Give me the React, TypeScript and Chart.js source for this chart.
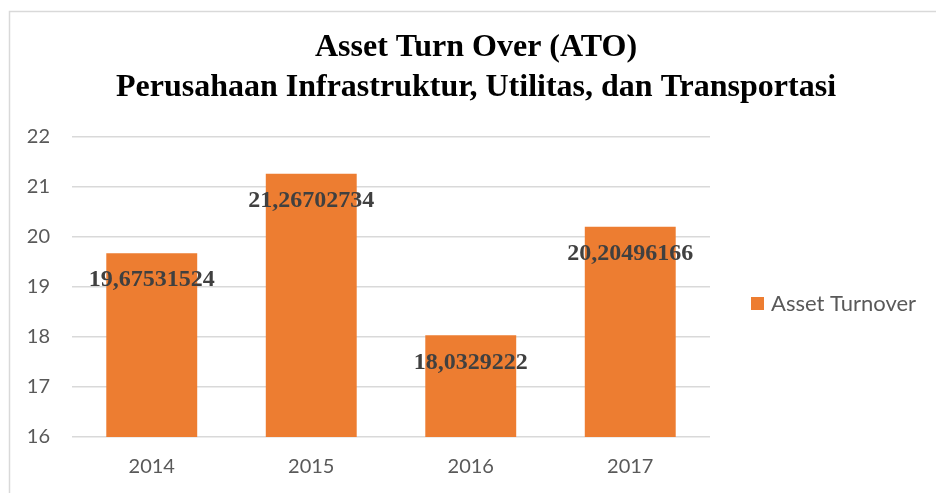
import React, { useEffect, useRef } from "react";
import { Chart, registerables } from "chart.js";

Chart.register(...registerables);

const categories = ["2014", "2015", "2016", "2017"];
const seriesName = "Asset Turnover";
const values = [19.67531524, 21.26702734, 18.0329222, 20.20496166];
const titleLines = ["Asset Turn Over (ATO)", "Perusahaan Infrastruktur, Utilitas, dan Transportasi"];
const yMin = 16;
const yMax = 22;

const BAR = "#ED7D31";
const AXIS_FONT = "Lato, 'Open Sans', sans-serif";
const SERIF = "'Liberation Serif', 'DejaVu Serif', serif";

const fmt = (v: number) => String(v).replace(".", ",");

const decor = {
  id: "decor",
  afterDraw(chart: any) {
    const ctx = chart.ctx as CanvasRenderingContext2D;
    ctx.save();
    // outer border (top & left visible)
    ctx.strokeStyle = "#d9d9d9";
    ctx.lineWidth = 1.5;
    ctx.beginPath();
    ctx.moveTo(9.5, 493);
    ctx.lineTo(9.5, 11.5);
    ctx.lineTo(936, 11.5);
    ctx.stroke();
    // title
    ctx.fillStyle = "#000";
    ctx.textAlign = "center";
    ctx.textBaseline = "middle";
    ctx.font = `bold 32px ${SERIF}`;
    ctx.fillText(titleLines[0], 476, 48);
    ctx.fillText(titleLines[1], 476, 88);
    // data labels
    const meta = chart.getDatasetMeta(0);
    ctx.font = `bold 24px ${SERIF}`;
    ctx.fillStyle = "#404040";
    meta.data.forEach((bar: any, i: number) => {
      ctx.fillText(fmt(values[i]), bar.x, bar.y + 27);
    });
    // legend
    ctx.fillStyle = BAR;
    ctx.fillRect(751, 297, 13, 13);
    ctx.fillStyle = "#595959";
    ctx.textAlign = "left";
    ctx.font = `22px ${AXIS_FONT}`;
    ctx.fillText(seriesName, 771, 304);
    ctx.restore();
  },
};

export default function App() {
  const ref = useRef<HTMLCanvasElement>(null);
  useEffect(() => {
    document.body.style.margin = "0";
    const chart = new Chart(ref.current!, {
      type: "bar",
      data: {
        labels: categories,
        datasets: [
          {
            label: seriesName,
            data: values,
            backgroundColor: BAR,
            borderWidth: 0,
            barPercentage: 0.57,
            categoryPercentage: 1,
          },
        ],
      },
      options: {
        animation: false,
        responsive: false,
        layout: { padding: { top: 137, right: 226, left: 10, bottom: 0 } },
        plugins: { legend: { display: false }, title: { display: false }, tooltip: { enabled: false } },
        scales: {
          x: {
            grid: { display: false, drawTicks: false },
            border: { display: false },
            ticks: { color: "#595959", font: { family: AXIS_FONT, size: 20 }, padding: 18 },
            afterFit: (s: any) => {
              s.height = 56;
            },
          },
          y: {
            min: yMin,
            max: yMax,
            grid: { color: "#d9d9d9", lineWidth: 1.5, drawTicks: false },
            border: { display: false },
            ticks: { stepSize: 1, color: "#595959", font: { family: AXIS_FONT, size: 20 }, padding: 22 },
            afterFit: (s: any) => {
              s.width = 62;
            },
          },
        },
      },
      plugins: [decor],
    });
    return () => chart.destroy();
  }, []);
  return <canvas ref={ref} width={936} height={493} style={{ display: "block" }} />;
}
